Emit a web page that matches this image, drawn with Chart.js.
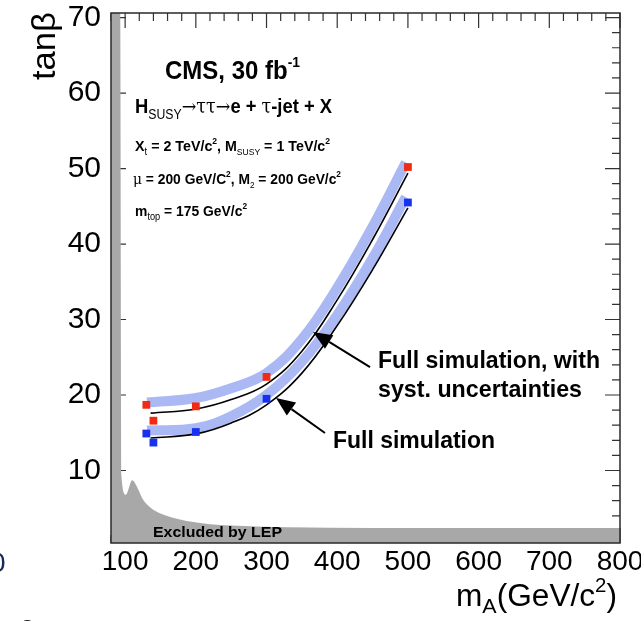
<!DOCTYPE html>
<html>
<head>
<meta charset="utf-8">
<script src="https://cdn.jsdelivr.net/npm/chart.js@4.4.0/dist/chart.umd.min.js"></script>
<style>
  html, body { margin: 0; padding: 0; background: #ffffff; }
  #wrap { width: 641px; height: 621px; position: relative; }
</style>
</head>
<body>
<div id="wrap"><canvas id="c" width="641" height="621"></canvas></div>
<script>
// Axis tick labels
const massTicks = [100, 200, 300, 400, 500, 600, 700, 800];
const tanbTicks = [10, 20, 30, 40, 50, 60, 70];

// Full-simulation discovery points: with systematics (red) and without (blue)
const pointMass = [130, 140, 200, 300, 500];
const tanbSyst  = [18.7, 16.6, 18.5, 22.4, 50.2];
const tanbFull  = [14.9, 13.7, 15.1, 19.5, 45.5];

// Fitted 5-sigma contours (black lines)
const fitMass    = [136, 200, 250, 300, 350, 400, 450, 500];
const fitSyst    = [17.6, 18.15, 19.4, 21.45, 25.8, 32.6, 40.6, 49.4];
const fitFull    = [14.3, 14.85, 16.3, 18.7, 22.9, 29.2, 36.6, 44.8];

// Uncertainty bands drawn along the contours
const bandMass   = [131, 200, 250, 300, 350, 400, 450, 497];
const bandSyst   = [19.0, 19.6, 20.9, 22.9, 27.4, 34.2, 42.3, 50.8];
const bandFull   = [15.3, 15.6, 17.2, 20.0, 24.4, 30.6, 38.1, 46.2];

// LEP excluded region boundary
const lepMass = [80, 93, 94.5, 101, 110, 118, 125, 137, 150, 165, 187, 220, 260, 330, 450, 800];
const lepTanb = [71, 71, 9.5, 6.8, 8.7, 7.6, 6.2, 5.0, 4.3, 3.8, 3.3, 2.9, 2.7, 2.5, 2.4, 2.4];

const FAM = "'Liberation Sans',Arial,sans-serif";
const SERIF = "'DejaVu Serif','Liberation Serif',serif";
const fnt = (s, b, fam) => (b ? 'bold ' : '') + s + 'px ' + (fam || FAM);
const pts = (xs, ys) => xs.map((x, i) => ({ x: x, y: ys[i] }));

// Draws a run of text pieces (sub/superscripts etc.), squeezed to a given width
function rich(ctx, parts, x, y, width) {
  let total = 0;
  for (const p of parts) { ctx.font = fnt(p.s, p.b, p.f); total += ctx.measureText(p.t).width; }
  const sx = width ? width / total : 1;
  ctx.save();
  ctx.translate(x, y);
  ctx.scale(sx, 1);
  ctx.textBaseline = 'alphabetic';
  ctx.textAlign = 'left';
  let cx = 0;
  for (const p of parts) {
    ctx.font = fnt(p.s, p.b, p.f);
    ctx.fillStyle = p.c || '#000';
    ctx.fillText(p.t, cx, p.dy || 0);
    cx += ctx.measureText(p.t).width;
  }
  ctx.restore();
}

function arrow(ctx, x0, y0, x1, y1) {
  const a = Math.atan2(y1 - y0, x1 - x0);
  const L = 19, W = 8;
  const bx = x1 - L * Math.cos(a), by = y1 - L * Math.sin(a);
  ctx.save();
  ctx.strokeStyle = '#000';
  ctx.lineWidth = 2;
  ctx.beginPath(); ctx.moveTo(x0, y0); ctx.lineTo(bx, by); ctx.stroke();
  ctx.fillStyle = '#000';
  ctx.beginPath();
  ctx.moveTo(x1, y1);
  ctx.lineTo(bx + W * Math.sin(a), by - W * Math.cos(a));
  ctx.lineTo(bx - W * Math.sin(a), by + W * Math.cos(a));
  ctx.closePath(); ctx.fill();
  ctx.restore();
}

// Inward ROOT-style tick marks (under the data) and the frame (on top)
const frameTicks = {
  id: 'frameTicks',
  beforeDatasetsDraw(chart) {
    const { ctx, chartArea: a, scales: { x, y } } = chart;
    ctx.save();
    ctx.strokeStyle = '#333';
    ctx.lineWidth = 1.2;
    ctx.beginPath();
    for (let m = 80; m <= 800; m += 20) {
      const px = x.getPixelForValue(m);
      const len = massTicks.includes(m) ? 15 : 8;
      ctx.moveTo(px, a.top); ctx.lineTo(px, a.top + len);
      ctx.moveTo(px, a.bottom); ctx.lineTo(px, a.bottom - len);
    }
    for (let t = 2; t <= 70; t += 2) {
      const py = y.getPixelForValue(t);
      const len = tanbTicks.includes(t) ? 15 : 8;
      ctx.moveTo(a.left, py); ctx.lineTo(a.left + len, py);
      ctx.moveTo(a.right, py); ctx.lineTo(a.right - len, py);
    }
    ctx.stroke();
    ctx.restore();
  },
  afterDatasetsDraw(chart) {
    const { ctx, chartArea: a } = chart;
    ctx.save();
    ctx.strokeStyle = '#2a2a2a';
    ctx.lineWidth = 1.5;
    ctx.strokeRect(a.left, a.top, a.right - a.left, a.bottom - a.top);
    ctx.restore();
  },
  afterDraw(chart) {
    const { ctx, scales: { x, y } } = chart;
    const X = v => x.getPixelForValue(v), Y = v => y.getPixelForValue(v);

    rich(ctx, [{ t: 'CMS, 30 fb', s: 26, b: 1 }, { t: '-1', s: 15, b: 1, dy: -12 }], X(156.4), Y(61.8), 135);
    rich(ctx, [
      { t: 'H', s: 21, b: 1 }, { t: 'SUSY', s: 14, dy: 6 },
      { t: '\u2192\u03C4\u03C4\u2192', s: 20, f: SERIF }, { t: 'e + ', s: 21, b: 1 },
      { t: '\u03C4', s: 20, f: SERIF }, { t: '-jet + X', s: 21, b: 1 }
    ], X(114.0), Y(57.4), 197);
    rich(ctx, [
      { t: 'X', s: 15, b: 1 }, { t: 't', s: 10, dy: 4 }, { t: ' = 2 TeV/c', s: 15, b: 1 },
      { t: '2', s: 9, b: 1, dy: -7 }, { t: ', M', s: 15, b: 1 }, { t: 'SUSY', s: 9, dy: 4 },
      { t: ' = 1 TeV/c', s: 15, b: 1 }, { t: '2', s: 9, b: 1, dy: -7 }
    ], X(114.0), Y(52.36), 195);
    rich(ctx, [
      { t: '\u03BC', s: 15, f: SERIF }, { t: ' = 200 GeV/C', s: 15, b: 1 },
      { t: '2', s: 9, b: 1, dy: -7 }, { t: ', M', s: 15, b: 1 }, { t: '2', s: 9, dy: 4 },
      { t: ' = 200 GeV/c', s: 15, b: 1 }, { t: '2', s: 9, b: 1, dy: -7 }
    ], X(111.1), Y(47.95), 208);
    rich(ctx, [
      { t: 'm', s: 15, b: 1 }, { t: 'top', s: 10, dy: 4 }, { t: ' = 175 GeV/c', s: 15, b: 1 },
      { t: '2', s: 9, b: 1, dy: -7 }
    ], X(114.0), Y(43.7), 112);

    rich(ctx, [{ t: 'Full simulation, with', s: 24, b: 1 }], X(457.7), Y(23.54), 222);
    rich(ctx, [{ t: 'syst. uncertainties', s: 24, b: 1 }], X(457.7), Y(19.7), 204);
    rich(ctx, [{ t: 'Full simulation', s: 24, b: 1 }], X(394.0), Y(12.94), 162);
    rich(ctx, [{ t: 'Excluded by LEP', s: 15, b: 1 }], X(139.4), Y(1.13), 129);

    arrow(ctx, X(446.4), Y(23.7), X(365.7), Y(28.35));
    arrow(ctx, X(382.7), Y(14.97), X(313.4), Y(19.6));

    // axis titles
    ctx.save();
    ctx.translate(55, 80);
    ctx.rotate(-Math.PI / 2);
    rich(ctx, [{ t: 'tan', s: 33 }, { t: '\u03B2', s: 33 }], 0, 0, 68);
    ctx.restore();
    rich(ctx, [
      { t: 'm', s: 31 }, { t: 'A', s: 21, dy: 7 }, { t: '(GeV/c', s: 31 },
      { t: '2', s: 20, dy: -14 }, { t: ')', s: 31 }
    ], 456, 606, 161);

    // neighbouring page content cut by the left and bottom edges
    rich(ctx, [{ t: '0', s: 28, c: '#1a2a5a' }], -10, 572);
    rich(ctx, [{ t: '2', s: 26, c: '#222' }], 20, 638);
  }
};

const curve = { pointRadius: 0, fill: false, tension: 0.4 };

new Chart(document.getElementById('c').getContext('2d'), {
  type: 'line',
  data: {
    datasets: [
      { label: 'Excluded by LEP', data: pts(lepMass, lepTanb), borderWidth: 0,
        backgroundColor: '#a8a8a8', fill: 'start', pointRadius: 0,
        cubicInterpolationMode: 'monotone', order: 10, clip: 0 },
      Object.assign({ label: 'band syst', data: pts(bandMass, bandSyst), borderColor: '#aab9f3',
        borderWidth: 10, borderCapStyle: 'butt', order: 6 }, curve),
      Object.assign({ label: 'band full', data: pts(bandMass, bandFull), borderColor: '#aab9f3',
        borderWidth: 10, borderCapStyle: 'butt', order: 6 }, curve),
      Object.assign({ label: 'fit syst', data: pts(fitMass, fitSyst), borderColor: '#000',
        borderWidth: 1.6, order: 4 }, curve),
      Object.assign({ label: 'fit full', data: pts(fitMass, fitFull), borderColor: '#000',
        borderWidth: 1.6, order: 4 }, curve),
      { label: 'Full simulation, with syst. uncertainties', data: pts(pointMass, tanbSyst), showLine: false,
        pointStyle: 'rect', pointRadius: 5.5, pointBackgroundColor: '#f22a14', pointBorderWidth: 0, order: 1 },
      { label: 'Full simulation', data: pts(pointMass, tanbFull), showLine: false,
        pointStyle: 'rect', pointRadius: 5.5, pointBackgroundColor: '#1632f0', pointBorderWidth: 0, order: 1 }
    ]
  },
  options: {
    responsive: false,
    animation: false,
    events: [],
    layout: { padding: { top: 13, right: 21, left: 0, bottom: 0 } },
    plugins: { legend: { display: false }, tooltip: { enabled: false } },
    scales: {
      x: {
        type: 'linear', min: 80, max: 800,
        afterBuildTicks: s => { s.ticks = massTicks.map(v => ({ value: v })); },
        afterFit: s => { s.height = 78; s.paddingLeft = 0; s.paddingRight = 0; },
        grid: { display: false, drawTicks: false }, border: { display: false },
        ticks: { font: { family: FAM, size: 28, lineHeight: 1 }, color: '#000', padding: 5,
                 maxRotation: 0, autoSkip: false }
      },
      y: {
        type: 'linear', min: 0.4, max: 70.6,
        afterBuildTicks: s => { s.ticks = tanbTicks.map(v => ({ value: v })); },
        afterFit: s => { s.width = 111; s.paddingTop = 0; s.paddingBottom = 0; },
        grid: { display: false, drawTicks: false }, border: { display: false },
        ticks: { font: { family: FAM, size: 30, lineHeight: 1 }, color: '#000', padding: 10 }
      }
    }
  },
  plugins: [frameTicks]
});
</script>
</body>
</html>
